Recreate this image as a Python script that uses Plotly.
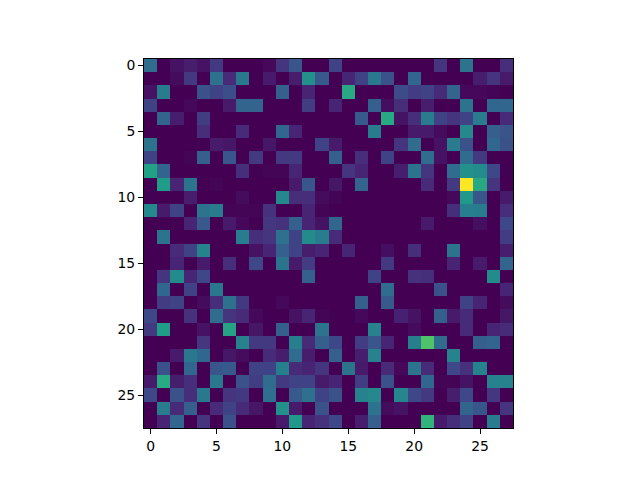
import plotly.graph_objects as go

# Pixel intensities, 0-100, one list per image row.
row_00 = [35, 0, 5, 8, 5, 17, 0, 0, 0, 2, 15, 27, 0, 0, 20, 0, 0, 0, 0, 0, 0, 0, 15, 0, 38, 0, 0, 13]
row_01 = [0, 0, 3, 17, 0, 37, 12, 40, 0, 7, 0, 8, 50, 28, 0, 10, 20, 40, 25, 0, 33, 0, 0, 0, 0, 8, 15, 7]
row_02 = [5, 42, 0, 0, 25, 20, 24, 0, 0, 0, 30, 0, 10, 0, 0, 60, 0, 0, 0, 23, 18, 20, 12, 32, 2, 2, 1, 0]
row_03 = [20, 0, 0, 2, 0, 0, 7, 32, 32, 0, 0, 0, 18, 0, 10, 0, 0, 30, 4, 13, 0, 8, 0, 0, 38, 0, 33, 33]
row_04 = [0, 32, 8, 0, 18, 0, 0, 0, 0, 0, 0, 0, 0, 0, 0, 0, 28, 0, 60, 5, 13, 42, 20, 15, 20, 42, 0, 12]
row_05 = [0, 0, 0, 0, 13, 0, 0, 12, 0, 0, 33, 10, 0, 0, 0, 0, 0, 42, 0, 0, 7, 7, 3, 0, 47, 0, 30, 26]
row_06 = [38, 0, 0, 0, 0, 7, 6, 0, 0, 6, 0, 0, 0, 20, 7, 0, 0, 0, 0, 15, 35, 0, 5, 42, 25, 0, 33, 25]
row_07 = [20, 0, 0, 1, 30, 0, 27, 0, 17, 0, 17, 17, 0, 0, 30, 0, 13, 0, 20, 0, 0, 35, 5, 0, 35, 17, 0, 0]
row_08 = [57, 32, 0, 0, 0, 0, 0, 13, 0, 1, 1, 10, 0, 0, 0, 15, 10, 0, 0, 8, 38, 15, 0, 35, 50, 48, 22, 0]
row_09 = [0, 55, 10, 38, 0, 1, 0, 0, 0, 0, 0, 7, 27, 0, 6, 0, 32, 0, 0, 0, 0, 12, 0, 17, 100, 60, 15, 0]
row_10 = [0, 0, 0, 8, 0, 0, 0, 3, 0, 0, 47, 13, 13, 3, 1, 0, 0, 0, 0, 0, 0, 0, 0, 2, 53, 27, 0, 7]
row_11 = [47, 7, 20, 0, 38, 42, 1, 1, 1, 14, 0, 0, 10, 1, 0, 0, 0, 0, 0, 0, 0, 0, 0, 13, 43, 42, 0, 13]
row_12 = [0, 0, 0, 10, 28, 0, 7, 2, 0, 16, 14, 30, 10, 5, 33, 0, 0, 0, 0, 0, 0, 7, 0, 0, 0, 4, 0, 22]
row_13 = [0, 38, 0, 0, 0, 0, 0, 42, 13, 15, 37, 20, 48, 42, 12, 0, 0, 0, 0, 0, 0, 0, 0, 0, 0, 0, 0, 18]
row_14 = [0, 0, 12, 20, 45, 0, 0, 0, 5, 10, 30, 20, 8, 10, 0, 10, 0, 0, 4, 0, 13, 0, 0, 38, 0, 0, 0, 8]
row_15 = [0, 0, 10, 0, 7, 0, 13, 0, 22, 0, 38, 7, 18, 0, 0, 0, 0, 0, 17, 0, 0, 0, 0, 10, 0, 7, 0, 32]
row_16 = [0, 15, 48, 10, 22, 0, 0, 0, 0, 0, 0, 0, 30, 0, 0, 0, 0, 20, 0, 0, 14, 13, 0, 0, 0, 0, 48, 0]
row_17 = [0, 33, 0, 20, 0, 40, 0, 0, 0, 0, 0, 0, 0, 0, 0, 0, 0, 0, 35, 0, 0, 0, 25, 0, 0, 0, 0, 10]
row_18 = [0, 18, 20, 0, 3, 13, 37, 17, 0, 0, 2, 0, 0, 0, 0, 0, 30, 0, 28, 0, 0, 0, 0, 0, 20, 10, 0, 3]
row_19 = [22, 0, 0, 14, 0, 35, 15, 12, 2, 0, 0, 5, 10, 1, 0, 0, 2, 0, 0, 9, 5, 0, 30, 7, 12, 0, 0, 6]
row_20 = [17, 55, 0, 0, 5, 0, 58, 0, 6, 0, 30, 0, 0, 38, 0, 0, 0, 45, 0, 0, 3, 0, 0, 0, 12, 0, 10, 12]
row_21 = [0, 0, 0, 0, 16, 0, 0, 45, 17, 17, 0, 43, 12, 30, 22, 0, 18, 27, 10, 0, 43, 72, 35, 0, 0, 30, 32, 0]
row_22 = [0, 0, 7, 40, 33, 0, 6, 3, 0, 12, 8, 35, 8, 0, 30, 0, 8, 45, 0, 0, 0, 0, 0, 45, 0, 0, 0, 0]
row_23 = [0, 25, 0, 33, 0, 27, 28, 0, 20, 20, 43, 12, 10, 15, 0, 38, 7, 0, 12, 2, 38, 12, 0, 22, 14, 45, 0, 0]
row_24 = [7, 60, 8, 13, 0, 40, 0, 25, 18, 35, 17, 20, 20, 7, 10, 0, 18, 0, 25, 0, 0, 33, 1, 1, 5, 0, 45, 45]
row_25 = [22, 0, 25, 13, 40, 0, 15, 17, 0, 36, 0, 28, 37, 20, 25, 0, 45, 47, 0, 46, 22, 17, 0, 8, 22, 0, 16, 0]
row_26 = [0, 42, 12, 30, 0, 12, 20, 12, 6, 0, 50, 7, 0, 25, 0, 0, 0, 38, 3, 5, 0, 0, 0, 0, 32, 27, 0, 15]
row_27 = [0, 10, 33, 0, 15, 0, 25, 0, 0, 0, 7, 53, 10, 14, 22, 0, 8, 30, 0, 0, 0, 65, 7, 13, 20, 0, 42, 0]

pixels = [
    row_00, row_01, row_02, row_03, row_04, row_05, row_06,
    row_07, row_08, row_09, row_10, row_11, row_12, row_13,
    row_14, row_15, row_16, row_17, row_18, row_19, row_20,
    row_21, row_22, row_23, row_24, row_25, row_26, row_27,
]
tick_values = [0, 5, 10, 15, 20, 25]

fig = go.Figure(
    go.Heatmap(z=pixels, colorscale="Viridis", zmin=0, zmax=100, showscale=False)
)

axis_style = {
    "tickmode": "array",
    "tickvals": tick_values,
    "ticks": "outside",
    "ticklen": 5,
    "tickwidth": 1,
    "tickcolor": "black",
    "showline": True,
    "linecolor": "black",
    "linewidth": 1,
    "mirror": True,
    "showgrid": False,
    "zeroline": False,
}

fig.update_xaxes(range=[-0.5, 27.5], **axis_style)
fig.update_yaxes(range=[27.5, -0.5], **axis_style)

# The page body has an 8px margin, so the margins are shifted to compensate.
fig.update_layout(
    width=640,
    height=480,
    margin={"l": 136, "r": 135, "t": 51, "b": 60, "autoexpand": False},
    paper_bgcolor="white",
    plot_bgcolor="white",
    font={"family": "DejaVu Sans", "size": 13.9, "color": "black"},
)

fig.write_html("out.html")
